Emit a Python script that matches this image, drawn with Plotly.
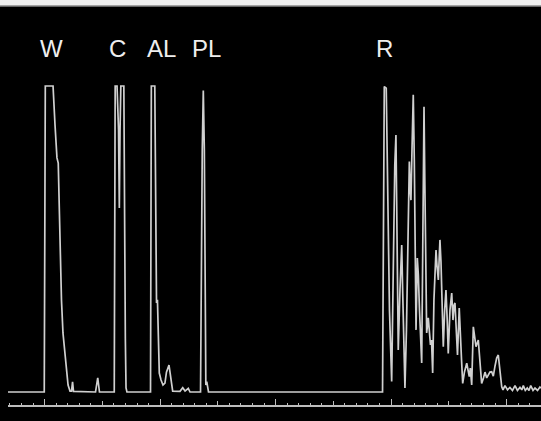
import plotly.graph_objects as go

# Retention time (min) and detector signal (% of full scale, clipped at 100)
time_min = [
    6.83, 9.97, 10.06, 10.73, 10.90, 11.07, 11.18, 11.25, 11.33, 11.40, 11.46, 11.59,
    11.68, 11.79, 11.90, 12.03, 12.20, 12.33, 12.42, 12.50, 14.41, 14.60, 14.75,
    16.03, 16.11, 16.27, 16.40, 16.47, 16.53, 16.60, 16.86, 16.96, 16.99, 17.05, 17.13,
    19.17, 19.24, 19.54, 19.63, 19.69, 19.77, 19.86, 19.93, 20.08, 20.25, 20.42, 20.55,
    20.77, 20.90, 21.09, 21.72, 21.96, 22.16, 22.44, 22.59,
    23.50, 23.65, 23.74, 23.83, 23.96, 24.04, 24.19,
    39.26, 39.41, 39.58, 39.66, 39.77, 39.86, 40.05, 40.21, 40.32, 40.42, 40.51, 40.62,
    40.77, 40.92, 41.00, 41.10, 41.20, 41.33, 41.45, 41.58, 41.66, 41.72, 41.81, 41.92,
    42.01, 42.09, 42.16, 42.27, 42.36, 42.46, 42.55, 42.65, 42.74, 42.81, 42.85, 42.92,
    43.00, 43.08, 43.22, 43.32, 43.41, 43.50, 43.60, 43.71, 43.89, 43.97, 44.09, 44.23,
    44.32, 44.41, 44.52, 44.64, 44.75, 44.86, 44.95, 45.10, 45.25, 45.36, 45.45, 45.53,
    45.66, 45.75, 45.90, 46.01, 46.10, 46.20, 46.35, 46.55, 46.66, 46.77, 46.86, 46.98,
    47.12, 47.35, 47.55, 47.70, 47.84, 48.00, 48.13, 48.28, 48.43, 48.56, 48.71, 48.85,
    49.00, 49.14, 49.28, 49.39, 49.58, 49.69, 49.86, 50.08, 50.29, 50.51, 50.73, 50.94,
    51.16, 51.32, 51.45, 51.62, 51.79, 51.94, 52.09, 52.29, 52.46, 52.68, 52.89, 52.98,
]
signal = [
    0, 0, 100, 100, 87.3, 76.5, 74.8, 62.7, 41.5, 35.9, 30.1, 19.3,
    15.4, 11.1, 6.5, 2.3, 0.3, 0.3, 3.3, 0.2, 0, 4.6, 0,
    0, 100, 100, 85.6, 60.1, 85.6, 100, 100, 20.3, 17.6, 1.3, 0,
    0, 100, 100, 49.7, 29.1, 30.1, 15.4, 6.2, 3.9, 2.3, 2.9, 6.5,
    8.8, 4.6, 0.3, 0.2, 1.4, 0.3, 1.2, 0,
    0, 79.1, 98.5, 79.1, 2.3, 3.4, 0,
    0, 99.8, 99.3, 79.1, 46.4, 26.8, 3.4, 46.4, 74.2, 84.0, 56.2, 13.7,
    33.3, 48.0, 33.3, 13.7, 1.3, 20.3, 52.9, 75.3, 66.0, 62.7, 79.1, 97.1,
    75.8, 36.6, 20.3, 43.8, 38.2, 26.8, 18.6, 9.5, 46.4, 79.1, 93.2, 69.3,
    30.1, 19.3, 24.2, 18.6, 15.4, 17.0, 6.2, 30.1, 46.4, 41.5, 36.6, 49.7,
    42.5, 30.1, 14.8, 26.8, 33.3, 23.5, 12.6, 26.8, 32.3, 23.5, 28.4, 29.1,
    15.4, 12.1, 27.4, 20.3, 10.5, 2.8, 6.5, 9.4, 7.2, 5.0, 7.8, 2.3,
    21.3, 14.8, 17.0, 10.5, 2.8, 4.6, 6.5, 4.6, 5.9, 6.5, 6.6, 5.2,
    8.5, 11.1, 12.1, 8.5, 1.7, 0.7, 2.1, 0.7, 1.5, 0.5, 2.1, 0.5,
    1.5, 0.7, 2.1, 0.5, 1.3, 0.5, 2.1, 0.5, 1.3, 0.5, 1.6, 1.3,
]

peak_labels = ["W", "C", "AL", "PL", "R"]
peak_label_time = [10.61, 16.32, 20.08, 24.06, 39.43]
label_level = 112.4

x_range = [6.83, 52.98]
y_range = [-4.25, 128.1]

fig = go.Figure()
fig.add_trace(go.Scatter(
    x=time_min, y=signal, mode="lines",
    line=dict(color="#d0d0d0", width=1.7),
    hoverinfo="skip", showlegend=False,
))
# invisible trace to anchor the second (major tick) axis
fig.add_trace(go.Scatter(
    x=[x_range[0]], y=[0], xaxis="x2", mode="markers",
    marker=dict(opacity=0), hoverinfo="skip", showlegend=False,
))

for lab, t in zip(peak_labels, peak_label_time):
    fig.add_annotation(
        x=t, y=label_level, text=lab, showarrow=False,
        font=dict(family="Liberation Sans, Arial, sans-serif", size=24, color="#eeeeee"),
        xanchor="center", yanchor="middle",
    )

# light strip along the top edge of the picture
fig.add_shape(type="rect", xref="paper", yref="paper",
              x0=-0.05, x1=1.05, y0=0.9852, y1=1.0,
              fillcolor="#f0f0f0", line=dict(width=0), layer="above")
fig.add_shape(type="line", xref="paper", yref="paper",
              x0=-0.05, x1=1.05, y0=0.9852, y1=0.9852,
              line=dict(color="#8a8a8a", width=1.5), layer="above")

fig.update_layout(
    width=541, height=421,
    margin=dict(l=8, r=0, t=0, b=16),
    paper_bgcolor="black", plot_bgcolor="black",
    showlegend=False,
    xaxis=dict(
        range=x_range, showgrid=False, zeroline=False, showticklabels=False,
        showline=True, linecolor="#bdbdbd", linewidth=1.5,
        ticks="inside", tick0=0, dtick=5, ticklen=4, tickwidth=1.2, tickcolor="#bdbdbd",
        minor=dict(ticks="inside", tick0=0, dtick=1, ticklen=2, tickwidth=1.2, tickcolor="#bdbdbd", showgrid=False),
    ),
    xaxis2=dict(
        range=x_range, overlaying="x", anchor="y", side="bottom",
        showgrid=False, zeroline=False, showticklabels=False, showline=False,
        ticks="inside", tick0=0, dtick=10, ticklen=6, tickwidth=1.2, tickcolor="#bdbdbd",
    ),
    yaxis=dict(range=y_range, visible=False, showgrid=False, zeroline=False),
)

fig.write_html(
    "out.html",
    config={"displayModeBar": False},
    post_script="document.body.style.margin='0';document.body.style.padding='0';document.body.style.background='black';",
)
